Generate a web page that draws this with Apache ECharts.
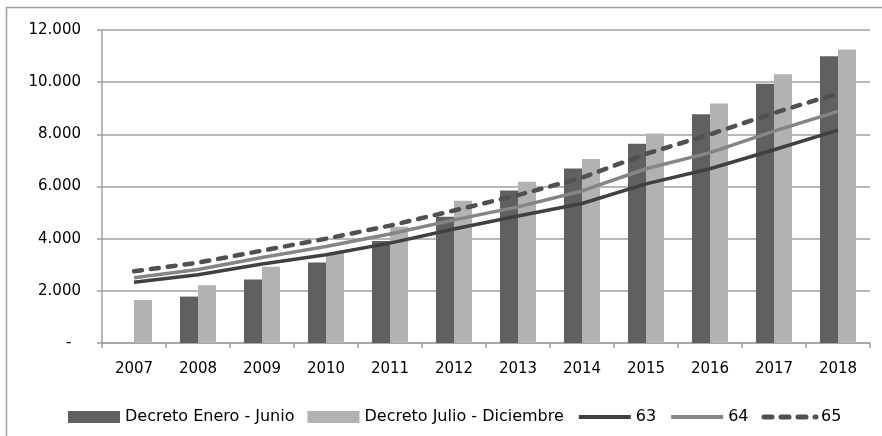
<!DOCTYPE html>
<html>
<head>
<meta charset="utf-8">
<script src="https://cdn.jsdelivr.net/npm/echarts@6/dist/echarts.min.js"></script>
<style>
  html, body { margin: 0; padding: 0; background: #fff; }
  #chart { width: 882px; height: 436px; }
</style>
</head>
<body>
<div id="chart"></div>
<script>
// categories
const years = ['2007', '2008', '2009', '2010', '2011', '2012', '2013', '2014', '2015', '2016', '2017', '2018'];

// bars
const decretoEneroJunio = [null, 1780, 2430, 3090, 3910, 4840, 5850, 6690, 7640, 8770, 9940, 10990];
const decretoJulioDiciembre = [1650, 2210, 2920, 3450, 4460, 5450, 6180, 7050, 8030, 9180, 10300, 11250];

// lines
const serie63 = [2330, 2620, 3030, 3380, 3830, 4370, 4870, 5350, 6100, 6680, 7410, 8160];
const serie64 = [2500, 2820, 3280, 3700, 4180, 4720, 5220, 5830, 6680, 7300, 8120, 8880];
const serie65 = [2750, 3080, 3540, 4000, 4500, 5080, 5670, 6340, 7250, 8000, 8820, 9570];

// y tick labels (0, 2000, ... 12000)
const yTickLabels = ['-  ', '2.000', '4.000', '6.000', '8.000', '10.000', '12.000'];

const font = 'DejaVu Sans';
const gridColor = '#a0a0a0';

var chartDom = document.getElementById('chart');
var myChart = echarts.init(chartDom);
var option;

// hide the round marker that line series put in the legend
const noMarker = { opacity: 0 };

option = {
  backgroundColor: '#fff',
  animation: false,
  grid: {
    left: 102,
    right: 12,
    top: 30,
    bottom: 93
  },
  legend: {
    left: 63,
    top: 404,
    itemWidth: 52,
    itemHeight: 12,
    itemGap: 13,
    textStyle: { fontFamily: font, fontSize: 16, color: '#000' },
    data: [
      { name: 'Decreto Enero - Junio', icon: 'rect' },
      { name: 'Decreto Julio - Diciembre', icon: 'rect' },
      { name: '63', itemStyle: noMarker, lineStyle: { width: 4 } },
      { name: '64', itemStyle: noMarker, lineStyle: { width: 4 } },
      { name: '65', itemStyle: noMarker, lineStyle: { width: 5 } }
    ]
  },
  graphic: [
    {
      type: 'polyline',
      shape: { points: [[6.5, 436], [6.5, 7.5], [882, 7.5]] },
      style: { stroke: gridColor, lineWidth: 1.5, fill: null },
      silent: true
    }
  ],
  xAxis: {
    type: 'category',
    data: years,
    axisLine: { lineStyle: { color: gridColor, width: 1.5 } },
    axisTick: { show: true, length: 5, lineStyle: { color: gridColor, width: 1.5 } },
    axisLabel: { fontFamily: font, fontSize: 15, color: '#000', margin: 19 }
  },
  yAxis: {
    type: 'value',
    min: 0,
    max: 12000,
    interval: 2000,
    axisLine: { show: true, lineStyle: { color: gridColor, width: 1.5 } },
    axisTick: { show: true, length: 5, lineStyle: { color: gridColor, width: 1.5 } },
    splitLine: { lineStyle: { color: gridColor, width: 1.5 } },
    axisLabel: {
      fontFamily: font,
      fontSize: 15,
      color: '#000',
      margin: 21,
      formatter: function (v) { return yTickLabels[Math.round(v / 2000)]; }
    }
  },
  series: [
    {
      name: 'Decreto Enero - Junio',
      type: 'bar',
      data: decretoEneroJunio,
      barWidth: 18,
      barGap: '0%',
      itemStyle: { color: '#606060' }
    },
    {
      name: 'Decreto Julio - Diciembre',
      type: 'bar',
      data: decretoJulioDiciembre,
      barWidth: 18,
      barGap: '0%',
      itemStyle: { color: '#b2b2b2' }
    },
    {
      name: '63',
      type: 'line',
      data: serie63,
      symbol: 'none',
      z: 5,
      itemStyle: { color: '#404040' },
      lineStyle: { color: '#404040', width: 3.5 }
    },
    {
      name: '64',
      type: 'line',
      data: serie64,
      symbol: 'none',
      z: 5,
      itemStyle: { color: '#858585' },
      lineStyle: { color: '#858585', width: 3.5 }
    },
    {
      name: '65',
      type: 'line',
      data: serie65,
      symbol: 'none',
      z: 5,
      itemStyle: { color: '#505050' },
      lineStyle: { color: '#505050', width: 4.5, type: [8, 9], cap: 'round' }
    }
  ]
};

option && myChart.setOption(option);
</script>
</body>
</html>
